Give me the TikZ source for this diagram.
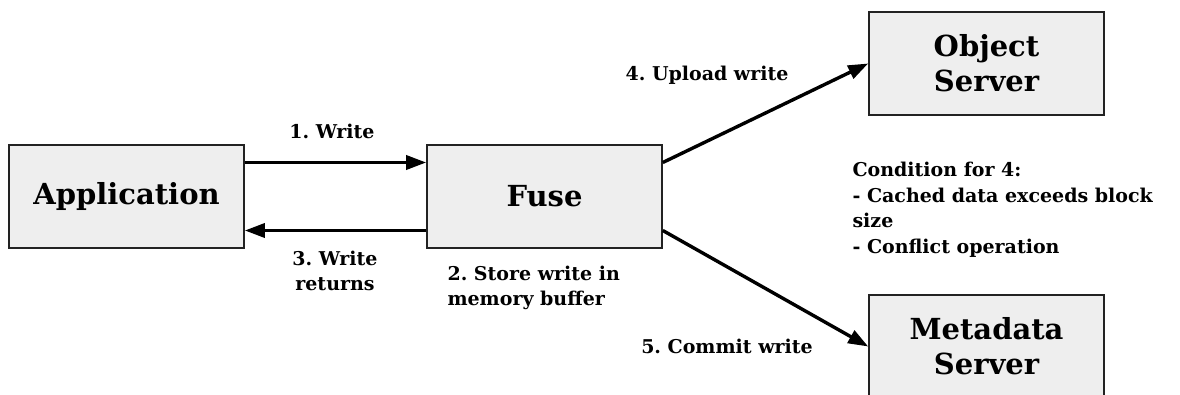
\documentclass[tikz,border=0pt]{standalone}
\usepackage{fontspec}
\setmainfont{DejaVu Serif}
\usetikzlibrary{arrows.meta,positioning}
\definecolor{BoxFill}{HTML}{EEEEEE}
\definecolor{BoxLine}{HTML}{222222}
\frenchspacing

\begin{document}
\begin{tikzpicture}[
    x=1pt,y=-1pt,
    box/.style={draw=BoxLine,line width=1.6pt,fill=BoxFill,minimum width=235pt,minimum height=103pt,align=center,font=\bfseries\fontsize{29}{35}\selectfont},
    lbl/.style={align=center,font=\bfseries\fontsize{19}{25}\selectfont},
    note/.style={align=left,font=\bfseries\fontsize{19}{25.5}\selectfont,anchor=north west},
    arr/.style={-{Triangle[length=20pt,width=14pt]},line width=3.4pt,black}
  ]
    \useasboundingbox (0,0) rectangle (1180,395);
    \clip (0,0) rectangle (1180,395);
    \node[box] (app) at (126.5,196.5) {Application};
    \node[box] (fuse) at (544.5,196.5) {Fuse};
    \node[box] (obj) at (986.5,63.5) {Object\\Server};
    \node[box] (meta) at (986.5,346.5) {Metadata\\Server};
    \draw[arr] ([yshift=34pt]app.east) -- ([yshift=34pt]fuse.west);
    \draw[arr] ([yshift=-34pt]fuse.west) -- ([yshift=-34pt]app.east);
    \draw[arr] ([yshift=34pt]fuse.east) -- (obj.west);
    \draw[arr] ([yshift=-34pt]fuse.east) -- (meta.west);
    \node[lbl] (l1) at (332,131) {1. Write};
    \node[lbl] (l3) at (335,271) {3. Write\\returns};
    \node[lbl,anchor=west,align=left] (l2) at (444,288) {2. Store write in\\memory buffer};
    \node[lbl] (l4) at (707,75) {4. Upload write};
    \node[lbl] (l5) at (727,346) {5. Commit write};
    \node[note] (cond) at (849,159) {Condition for 4:\\- Cached data exceeds block\\size\\- Conflict operation};
  \end{tikzpicture}
\end{document}
